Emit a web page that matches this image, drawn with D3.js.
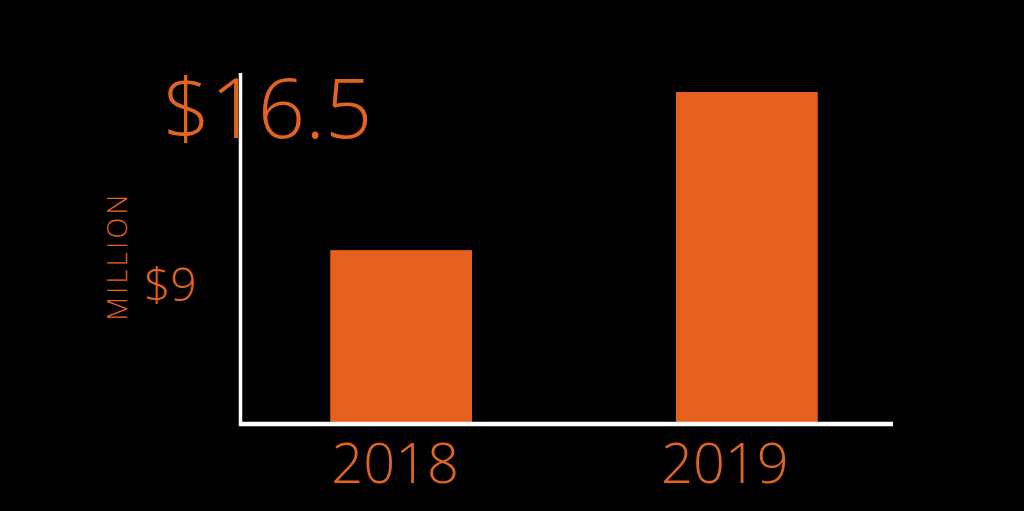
<!DOCTYPE html>
<html>
<head>
<meta charset="utf-8">
<script src="https://cdn.jsdelivr.net/npm/d3@7"></script>
<style>
  html, body { margin: 0; padding: 0; background: #000; }
  svg { display: block; }
  text { font-family: "Open Sans", "Lato", sans-serif; font-weight: 300; }
</style>
</head>
<body>
<svg id="chart" width="1024" height="511"></svg>
<script>
const categories = ["2018", "2019"];
const values = [9, 16.5];
const valueLabels = ["$9", "$16.5"];
const unitLabel = "MILLION";

const W = 1024, H = 511;
const orange = "#E5611D";
const textOrange = "#E3641F";
const svg = d3.select("#chart");
svg.append("rect").attr("width", W).attr("height", H).attr("fill", "#000");

const x = d3.scaleBand().domain(categories).range([230, 918]).paddingInner(0.59).paddingOuter(0.29);
const y = d3.scaleLinear().domain([0.8, 16.5]).range([423, 92]);

// bars
svg.selectAll("rect.bar").data(values).enter().append("rect")
  .attr("class", "bar")
  .attr("x", (d, i) => x(categories[i]))
  .attr("width", x.bandwidth())
  .attr("y", d => y(d))
  .attr("height", d => y.range()[0] - y(d))
  .attr("fill", orange);

// axes lines
const axisX0 = 240.5, axisTop = 73, axisBottom = 424, axisRight = 893;
svg.append("line").attr("x1", axisX0).attr("x2", axisX0).attr("y1", axisTop).attr("y2", axisBottom + 2)
  .attr("stroke", "#fff").attr("stroke-width", 3.5);
svg.append("line").attr("x1", axisX0 - 1.5).attr("x2", axisRight).attr("y1", axisBottom).attr("y2", axisBottom)
  .attr("stroke", "#fff").attr("stroke-width", 4.5);

// category labels
const labelNudge = [-6, -22];
svg.selectAll("text.cat").data(categories).enter().append("text")
  .attr("class", "cat")
  .attr("x", (d, i) => x(d) + x.bandwidth() / 2 + labelNudge[i])
  .attr("y", 483)
  .attr("text-anchor", "middle")
  .attr("fill", textOrange)
  .attr("font-size", 56)
  .text(d => d);

// value labels
svg.append("text").attr("x", 163).attr("y", 138).attr("fill", textOrange)
  .attr("font-size", 83).text(valueLabels[1]);
svg.append("text").attr("x", 144).attr("y", 301).attr("fill", textOrange)
  .attr("font-size", 46).text(valueLabels[0]);

// unit label
svg.append("text")
  .attr("transform", "translate(127,256) rotate(-90)")
  .attr("text-anchor", "middle")
  .attr("fill", textOrange)
  .attr("font-size", 27)
  .attr("letter-spacing", 3.5)
  .text(unitLabel);
</script>
</body>
</html>
